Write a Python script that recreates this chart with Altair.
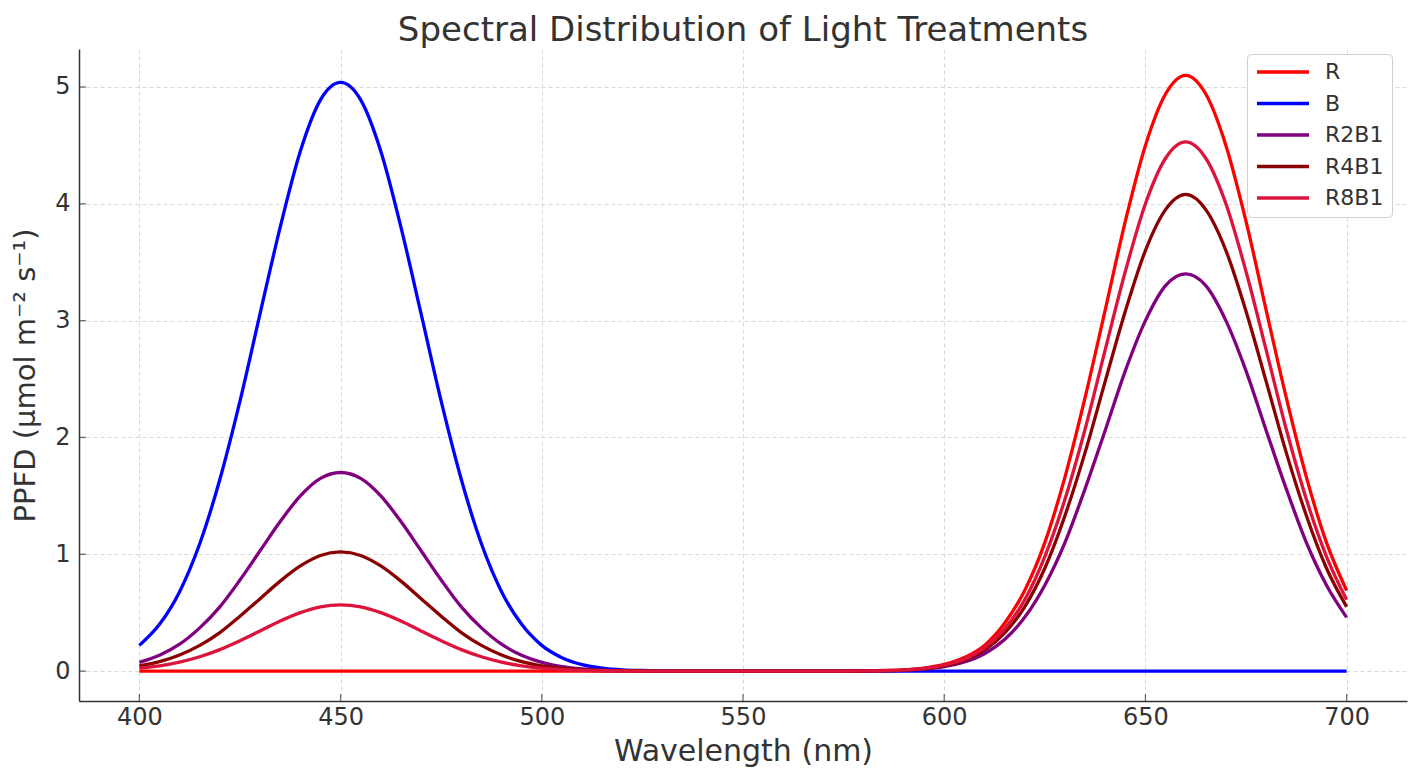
import altair as alt
import pandas as pd

# ---- data (every 5 nm) ----
wavelength = [400, 405, 410, 415, 420, 425, 430, 435, 440, 445,
              450, 455, 460, 465, 470, 475, 480, 485, 490, 495,
              500, 505, 510, 515, 520, 525, 530, 535, 540, 545,
              550, 555, 560, 565, 570, 575, 580, 585, 590, 595,
              600, 605, 610, 615, 620, 625, 630, 635, 640, 645,
              650, 655, 660, 665, 670, 675, 680, 685, 690, 695, 700]

R = [0, 0, 0, 0, 0, 0, 0, 0, 0, 0,
     0, 0, 0, 0, 0, 0, 0, 0, 0, 0,
     0, 0, 0, 0, 0, 0, 0, 0, 0, 0,
     0, 0, 0, 0, 0, 0,
     0.002, 0.005, 0.011, 0.026, 0.057, 0.116, 0.22, 0.41, 0.69, 1.10,
     1.66, 2.34, 3.09, 3.85, 4.50, 4.94, 5.10, 4.94, 4.50, 3.85,
     3.09, 2.34, 1.66, 1.10, 0.69]

B = [0.22, 0.40, 0.68, 1.09, 1.64, 2.31, 3.06, 3.80, 4.45, 4.89,
     5.04, 4.89, 4.45, 3.80, 3.06, 2.31, 1.64, 1.09, 0.68, 0.40,
     0.22, 0.115, 0.056, 0.026, 0.011, 0.005, 0.002,
     0, 0, 0, 0, 0, 0, 0, 0, 0, 0, 0, 0, 0, 0, 0, 0, 0, 0, 0, 0,
     0, 0, 0, 0, 0, 0, 0, 0, 0, 0, 0, 0, 0, 0, 0]

R2B1 = [0.075, 0.135, 0.23, 0.37, 0.55, 0.78, 1.03, 1.28, 1.50, 1.65,
        1.70, 1.65, 1.50, 1.28, 1.03, 0.78, 0.55, 0.37, 0.23, 0.135,
        0.075, 0.039, 0.019, 0.009, 0.004, 0.0015, 0.0005,
        0, 0, 0, 0, 0, 0, 0, 0, 0,
        0.001, 0.003, 0.007, 0.017, 0.038, 0.078, 0.149, 0.27, 0.46, 0.735,
        1.10, 1.56, 2.06, 2.57, 3.00, 3.30, 3.40, 3.30, 3.00, 2.57,
        2.06, 1.56, 1.10, 0.735, 0.46]

R4B1 = [0.045, 0.081, 0.138, 0.22, 0.33, 0.47, 0.62, 0.77, 0.90, 0.99,
        1.02, 0.99, 0.90, 0.77, 0.62, 0.47, 0.33, 0.22, 0.138, 0.081,
        0.045, 0.023, 0.011, 0.005, 0.002, 0.001, 0.0003,
        0, 0, 0, 0, 0, 0, 0, 0, 0,
        0.001, 0.004, 0.009, 0.021, 0.045, 0.093, 0.179, 0.325, 0.55, 0.88,
        1.33, 1.87, 2.48, 3.08, 3.60, 3.95, 4.08, 3.95, 3.60, 3.08,
        2.48, 1.87, 1.33, 0.88, 0.55]

R8B1 = [0.025, 0.045, 0.077, 0.123, 0.184, 0.26, 0.344, 0.428, 0.50, 0.55,
        0.567, 0.55, 0.50, 0.428, 0.344, 0.26, 0.184, 0.123, 0.077, 0.045,
        0.025, 0.013, 0.006, 0.003, 0.001, 0.0005, 0.0002,
        0, 0, 0, 0, 0, 0, 0, 0, 0,
        0.0015, 0.004, 0.010, 0.023, 0.050, 0.103, 0.199, 0.361, 0.61, 0.98,
        1.47, 2.07, 2.75, 3.42, 4.00, 4.39, 4.53, 4.39, 4.00, 3.42,
        2.75, 2.07, 1.47, 0.98, 0.61]

series_names = ["R", "B", "R2B1", "R4B1", "R8B1"]
series_colors = ["#ff0000", "#0000ff", "#800080", "#8b0000", "#dc143c"]
x_ticks = [400, 450, 500, 550, 600, 650, 700]
y_ticks = [0, 1, 2, 3, 4, 5]

rows = []
for name, vals in zip(series_names, [R, B, R2B1, R4B1, R8B1]):
    for w, v in zip(wavelength, vals):
        rows.append({"wavelength": w, "ppfd": v, "treatment": name})
df = pd.DataFrame(rows)

W, H = 1328, 652
FONT = "DejaVu Sans"
TXT = "#333333"

xscale = alt.Scale(domain=[385, 715], nice=False, zero=False)
yscale = alt.Scale(domain=[-0.256, 5.325], nice=False, zero=False)

xaxis = alt.Axis(values=x_ticks, title="Wavelength (nm)", ticks=False,
                 labelFontSize=24, labelFont=FONT, labelColor=TXT,
                 labelPadding=4, titleFontSize=30, titleFont=FONT,
                 titleFontWeight="normal", titleColor=TXT, titlePadding=7,
                 domainColor=TXT, domainWidth=1.5,
                 grid=True, gridDash=[4, 3], gridColor="#d9d9d9", gridWidth=1)
yaxis = alt.Axis(values=y_ticks, title="PPFD (μmol m⁻² s⁻¹)", ticks=False,
                 labelFontSize=24, labelFont=FONT, labelColor=TXT,
                 labelPadding=9, titleFontSize=29, titleFont=FONT,
                 titleFontWeight="normal", titleColor=TXT, titlePadding=14,
                 domainColor=TXT, domainWidth=1.5,
                 grid=True, gridDash=[4, 3], gridColor="#d9d9d9", gridWidth=1)

lines = alt.Chart(df).mark_line(strokeWidth=3.3, interpolate="monotone").encode(
    x=alt.X("wavelength:Q", scale=xscale, axis=xaxis),
    y=alt.Y("ppfd:Q", scale=yscale, axis=yaxis),
    color=alt.Color("treatment:N",
                    scale=alt.Scale(domain=series_names, range=series_colors),
                    legend=alt.Legend(orient="none", legendX=1168, legendY=5, title=None,
                                      symbolType="stroke", symbolSize=2700,
                                      symbolStrokeWidth=3.3, labelFontSize=22,
                                      labelFont=FONT, labelColor=TXT, labelOffset=14,
                                      strokeColor="#d0d0d0", fillColor="white",
                                      padding=8, cornerRadius=4, rowPadding=9.5,
                                      clipHeight=20)),
)

xt = pd.DataFrame({"wavelength": x_ticks})
yt = pd.DataFrame({"ppfd": y_ticks})

xtick_layer = alt.Chart(xt).mark_tick(orient="vertical", size=7, thickness=1.3, color=TXT).encode(
    x=alt.X("wavelength:Q", scale=xscale, axis=xaxis),
    y=alt.value(H - 3.5),
)
ytick_layer = alt.Chart(yt).mark_tick(orient="horizontal", size=7, thickness=1.3, color=TXT).encode(
    y=alt.Y("ppfd:Q", scale=yscale, axis=yaxis),
    x=alt.value(3.5),
)

chart = alt.layer(lines, xtick_layer, ytick_layer).properties(
    width=W, height=H,
    background="white",
    title=alt.TitleParams("Spectral Distribution of Light Treatments", fontSize=34,
                          font=FONT, fontWeight="normal", color=TXT,
                          anchor="middle", frame="group", offset=1),
    autosize=alt.AutoSizeParams(type="none"),
    padding={"left": 71, "top": 41, "right": 3, "bottom": 70},
).configure_view(stroke=None)

chart.save("out.html", embed_options={"renderer": "svg", "actions": False})
